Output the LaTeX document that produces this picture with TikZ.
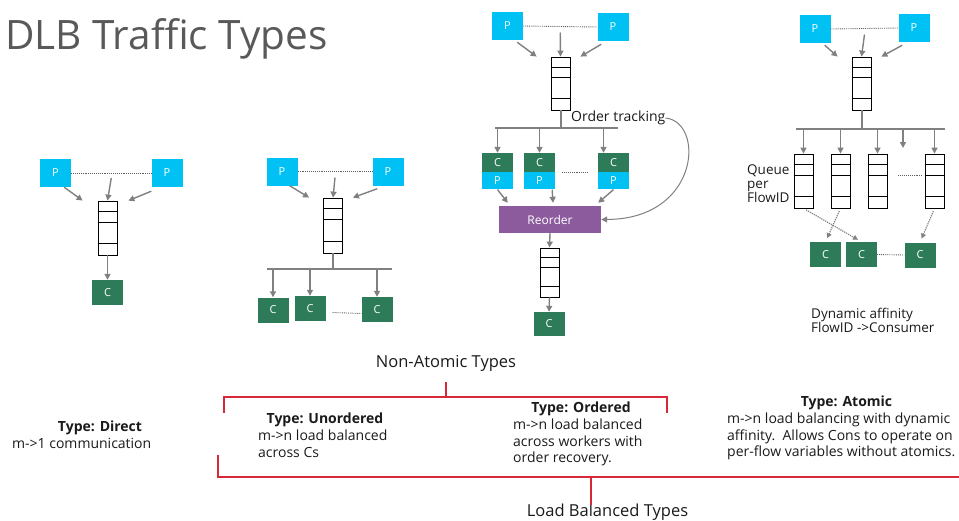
\documentclass[tikz,border=0pt]{standalone}
\usepackage{fontspec}
\setmainfont{Open Sans}
\usetikzlibrary{arrows.meta,positioning,calc}
\definecolor{pcyan}{HTML}{00C1F3}
\definecolor{cgreen}{HTML}{2E7B5A}
\definecolor{rpurple}{HTML}{8C5B9E}
\definecolor{arrgray}{HTML}{808080}
\definecolor{brkred}{HTML}{D62839}
\definecolor{titlegray}{HTML}{595959}
\definecolor{textblack}{HTML}{1A1A1A}
\newcommand{\fifo}[3]{%
  \node[fifobox,minimum height=#3] (#1) at #2 {};
  \foreach \f in {0.2,0.39,0.78}
    \draw[fifoline] ($(#1.north west)!\f!(#1.south west)$) -- ($(#1.north east)!\f!(#1.south east)$);
}

\begin{document}
\begin{tikzpicture}[x=1pt,y=-1pt,
  pbox/.style={fill=pcyan,text=white,minimum width=31pt,minimum height=28pt,inner sep=0pt,font=\fontsize{11}{12}\selectfont},
  cbox/.style={fill=cgreen,text=white,minimum width=31pt,minimum height=25pt,inner sep=0pt,font=\fontsize{11}{12}\selectfont},
  rbox/.style={fill=rpurple,text=white,minimum width=102pt,minimum height=27pt,inner sep=0pt,font=\fontsize{12}{14}\selectfont},
  fifobox/.style={draw=black,line width=0.8pt,minimum width=19pt,inner sep=0pt},
  fifoline/.style={black,line width=0.8pt},
  arr/.style={draw=arrgray,line width=1.4pt,-{Triangle[length=6pt,width=6pt]}},
  dotarr/.style={draw=arrgray,line width=1.2pt,densely dotted,-{Triangle[length=5pt,width=5pt]},shorten >=4pt,shorten <=3pt},
  dots/.style={draw=textblack!70,line width=0.9pt,densely dotted},
  bar/.style={draw=arrgray,line width=2pt},
  brk/.style={draw=brkred,line width=1.8pt},
  lbl/.style={font=\fontsize{14}{16.5}\selectfont,text=textblack,inner sep=0pt,align=left},
  ttl/.style={font=\fontsize{14}{16.5}\selectfont\bfseries,text=textblack,inner sep=0pt}]
\useasboundingbox (0,0) rectangle (959,520);
\node[anchor=base west,font=\fontsize{40.5}{44}\selectfont,text=titlegray,inner sep=0pt] (title) at (5,49) {DLB Traffic Types};

% direct
\node[pbox] (dpl) at (55.5,173) {P};
\node[pbox] (dpr) at (167,173) {P};
\fifo{dq}{(107.5,228)}{54pt}
\node[cbox] (dc) at (107.5,292.5) {C};
\draw[dots] (dpl.east) -- (dpr.west);
\draw[arr] ($(dpl.east)!0.5!(dpr.west)+(0,5)$) -- (dq.north);
\draw[arr] ([xshift=-7pt]dpl.south east) -- ([xshift=-15pt]dq.north west);
\draw[arr] ([yshift=-4pt]dpr.south west) -- ([xshift=11pt]dq.north east);
\draw[arr] (dq.south) -- (dc.north);

% unordered
\node[pbox] (upl) at (282,171.5) {P};
\node[pbox] (upr) at (388,171.5) {P};
\fifo{uq}{(333,225.5)}{55pt}
\draw[dots] (upl.east) -- (upr.west);
\draw[arr] ($(upl.east)!0.5!(upr.west)+(0,6)$) -- (uq.north);
\draw[arr] ([xshift=-8pt]upl.south east) -- ([xshift=-14pt]uq.north west);
\draw[arr] ([xshift=5pt,yshift=-3pt]upr.south west) -- ([xshift=10pt]uq.north east);
\coordinate (ubl) at (267,269);
\coordinate (ubr) at (392,269);
\draw[bar] (ubl) -- (ubr);
\draw[bar] (uq.south) -- (uq.south |- ubl);
\node[cbox] (uc1) at (273,310) {C};
\node[cbox] (uc2) at (310,308.5) {C};
\node[cbox] (uc3) at (377,309.5) {C};
\foreach \n in {uc1,uc2,uc3}
  \draw[arr] (\n.north |- ubl) -- (\n.north);
\draw[dots] ([xshift=7pt,yshift=-4pt]uc2.east) -- ([yshift=-4pt]uc3.west);

% ordered
\node[pbox] (opl) at (507.5,26) {P};
\node[pbox] (opr) at (613,27) {P};
\fifo{oq}{(560.5,83.5)}{53pt}
\draw[dots] (opl.east) -- (opr.west);
\draw[arr] ($(opl.east)!0.5!(opr.west)+(0,6)$) -- (oq.north);
\draw[arr] ([xshift=-6pt,yshift=-2pt]opl.south east) -- ([xshift=-14pt]oq.north west);
\draw[arr] ([xshift=4pt,yshift=-3pt]opr.south west) -- ([xshift=10pt]oq.north east);
\coordinate (obl) at (495,128);
\coordinate (obr) at (618,128);
\draw[bar] (obl) -- (obr);
\draw[bar] (oq.south) -- (oq.south |- obl);
\node[cbox,minimum height=19pt] (oc1) at (497.5,162.5) {C};
\node[pbox,minimum height=17pt,below=0pt of oc1] (op1) {P};
\node[cbox,minimum height=19pt] (oc2) at (539.5,162.5) {C};
\node[pbox,minimum height=17pt,below=0pt of oc2] (op2) {P};
\node[cbox,minimum height=19pt] (oc3) at (613.5,162.5) {C};
\node[pbox,minimum height=17pt,below=0pt of oc3] (op3) {P};
\coordinate (oa3) at ([xshift=-10pt]oc3.north);
\draw[arr] (oc1.north |- obl) -- (oc1.north);
\draw[arr] (oc2.north |- obl) -- (oc2.north);
\draw[arr] (oa3 |- obl) -- (oa3);
\draw[dots] ([xshift=7pt]oc2.south east) -- ([xshift=-10pt]oc3.south west);
\node[rbox] (ro) at (550,219.5) {Reorder};
\draw[arr] (op1.south) -- ([xshift=9pt,yshift=3pt]ro.north west);
\draw[arr] ([xshift=-3pt]op2.south east) -- ([xshift=3pt,yshift=3pt]ro.north);
\draw[arr] (op3.south) -- ([xshift=-3pt,yshift=3pt]ro.north east);
\node[lbl,anchor=west] (ot) at (571,118) {Order tracking};
\draw[arr,line width=1pt] (ot.east) .. controls (705,122) and (700,219) .. (ro.east);
\fifo{oq2}{(549.5,272.5)}{49pt}
\draw[arr] (ro.south) -- (oq2.north);
\node[cbox,minimum height=24pt] (oc) at (549,324) {C};
\draw[arr] (oq2.south) -- (oc.north);

% atomic
\node[pbox] (apl) at (815,29) {P};
\node[pbox] (apr) at (914,28) {P};
\fifo{aq}{(861.5,83.5)}{53pt}
\draw[dots] (apl.east) -- (apr.west);
\draw[arr] ($(apl.east)!0.5!(apr.west)+(0,6)$) -- (aq.north);
\draw[arr] ([xshift=-6pt,yshift=-2pt]apl.south east) -- ([xshift=-14pt]aq.north west);
\draw[arr] ([xshift=4pt,yshift=-3pt]apr.south west) -- ([xshift=10pt]aq.north east);
\coordinate (abl) at (796,129);
\coordinate (abr) at (945,129);
\draw[bar] (abl) -- (abr);
\draw[bar] (aq.south) -- (aq.south |- abl);
\fifo{aq1}{(803.5,181)}{54pt}
\fifo{aq2}{(840.5,181)}{54pt}
\fifo{aq3}{(877.5,181)}{54pt}
\fifo{aq4}{(934.5,181)}{54pt}
\foreach \n in {aq1,aq2,aq3,aq4}
  \draw[arr] (\n.north |- abl) -- (\n.north);
\coordinate (afree) at (903,148);
\draw[arr] (afree |- abl) -- (afree);
\draw[dots] ([xshift=11pt,yshift=6pt]aq3.east) -- ([xshift=-3pt,yshift=6pt]aq4.west);
\node[lbl,anchor=north west,font=\fontsize{13.5}{14}\selectfont] (qpf) at (747,165) {Queue\\per\\FlowID};
\node[cbox] (ca) at (825.5,254.5) {C};
\node[cbox] (cb) at (861.5,254.5) {C};
\node[cbox] (cc) at (920,255) {C};
\draw[dotarr] (aq1.south) -- (cb.north);
\draw[dotarr] (aq2.south) -- (ca.north);
\draw[dotarr] (aq4.south) -- (cc.north);
\draw[dots] (cb.east) -- (cc.west);
\node[lbl,anchor=north west,font=\fontsize{13.5}{14}\selectfont] (daf) at (811,308) {Dynamic affinity\\FlowID ->Consumer};

% type descriptions
\node[ttl] (tdir) at (100,428) {Type: Direct};
\node[lbl,anchor=west] (ddir) at (12,443) {m->1 communication};
\node[ttl] (tuno) at (325,420) {Type: Unordered};
\node[lbl,anchor=north west] (duno) at (258,430) {m->n load balanced\\across Cs};
\node[ttl] (tord) at (581,409) {Type: Ordered};
\node[lbl,anchor=north west] (dord) at (513,419) {m->n load balanced\\across workers with\\order recovery.};
\node[ttl] (tato) at (846.5,403) {Type: Atomic};
\node[lbl,anchor=north west] (dato) at (727,413) {m->n load balancing with dynamic\\affinity.\ \ Allows Cons to operate on\\per-flow variables without atomics.};

% brackets
\node[lbl,font=\fontsize{16.5}{19}\selectfont] (nat) at (446,363) {Non-Atomic Types};
\coordinate (nastem) at (446,382);
\coordinate (najoin) at (446,397);
\coordinate (nal) at (224,413);
\coordinate (nar) at (667,413);
\draw[brk] (nal) -- (nal |- najoin) -- (nar |- najoin) -- (nar);
\draw[brk] (nastem) -- (najoin);
\node[lbl,font=\fontsize{16.5}{19}\selectfont] (lbt) at (607.5,512) {Load Balanced Types};
\coordinate (lbleft) at (218,455);
\coordinate (lbright) at (959,477);
\coordinate (lbjoin) at (591,477);
\coordinate (lbstem) at (591,505);
\draw[brk] (lbleft) -- (lbleft |- lbjoin) -- (lbright);
\draw[brk] (lbjoin) -- (lbstem);
\end{tikzpicture}
\end{document}
